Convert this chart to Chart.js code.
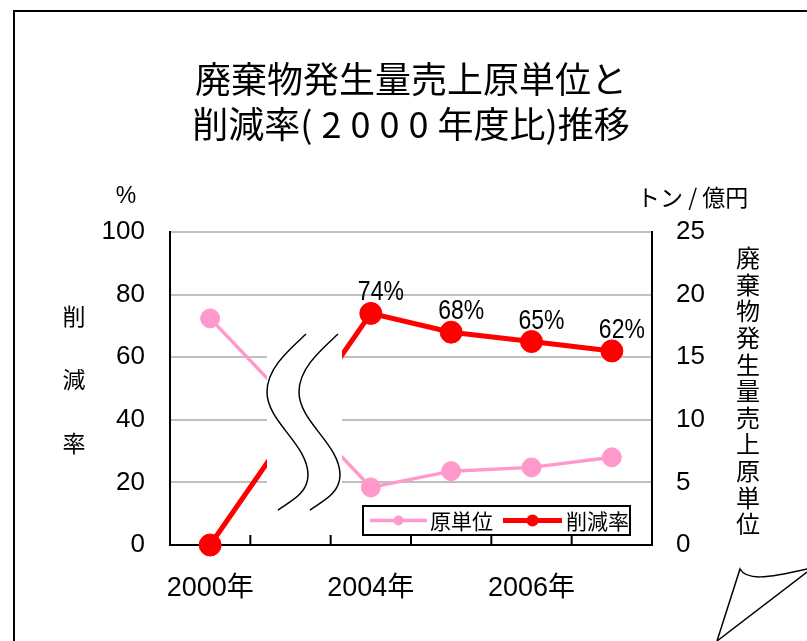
<!DOCTYPE html>
<html lang="ja">
<head>
<meta charset="utf-8">
<title>廃棄物発生量売上原単位と削減率推移</title>
<script src="https://cdn.jsdelivr.net/npm/chart.js@4.4.1/dist/chart.umd.min.js"></script>
<style>
  html, body { margin: 0; padding: 0; background: #fff; }
  #wrap { width: 807px; height: 641px; }
</style>
</head>
<body>
<div id="wrap"><canvas id="chart" width="807" height="641"></canvas></div>
<script>
(function () {
  'use strict';

  // ── Data ─────────────────────────────────────────────────────────────── //
  const years         = ['2000年', '', '2004年', '2005年', '2006年', '2007年'];
  const reductionRate = [0, null, 74, 68, 65, 62];          // 削減率 (%), left axis
  const unitIntensity = [18.1, null, 4.6, 5.9, 6.2, 7.0];   // 原単位 (トン/億円), right axis
  const rateTicks     = [0, 20, 40, 60, 80, 100];
  const unitTicks     = [0, 5, 10, 15, 20, 25];

  const titleLines  = ['廃棄物発生量売上原単位と', '削減率(\u20052\u20050\u20050\u20050\u2005年度比)推移'];
  const leftTitle   = '削減率';
  const rightTitle  = '廃棄物発生量売上原単位';
  const leftUnit    = '%';
  const rightUnit   = 'トン / 億円';

  const PINK = '#ff99cc';
  const RED  = '#ff0000';
  const NUM_FONT = "'Liberation Sans', Arial, sans-serif";
  const JP_FONT  = "'Noto Sans CJK JP', 'Noto Sans', sans-serif";

  // ── Decorations: break mark, labels, legend, frame ──────────────────── //
  const decor = {
    id: 'decor',
    beforeDraw(chart) {
      const ctx = chart.ctx;
      ctx.save();
      ctx.fillStyle = '#fff';
      ctx.fillRect(0, 0, chart.width, chart.height);
      ctx.restore();
    },
    afterDatasetsDraw(chart) {
      const ctx = chart.ctx;
      const x = chart.scales.x, y = chart.scales.y;
      // axis break between 2000 and 2004
      const cx = x.getPixelForValue(1);
      const left = cx - 23.5, right = cx + 51.5;
      const top = y.getPixelForValue(67.4), bot = y.getPixelForValue(11.2);
      ctx.save();
      ctx.fillStyle = '#fff';
      ctx.fillRect(left, top, right - left, bot - top);
      ctx.strokeStyle = '#000';
      ctx.lineWidth = 1.5;
      [0, 32].forEach(function (dx) {
        const ox = left + dx, oy = top;
        ctx.beginPath();
        ctx.moveTo(ox + 39, oy);
        ctx.bezierCurveTo(ox + 22, oy + 16, ox, oy + 34, ox, oy + 58);
        ctx.bezierCurveTo(ox, oy + 88, ox + 41, oy + 110, ox + 41, oy + 141);
        ctx.bezierCurveTo(ox + 41, oy + 160, ox + 22, oy + 168, ox + 11, oy + 176);
        ctx.stroke();
      });

      // data labels on 削減率 (condensed like the original)
      const meta = chart.getDatasetMeta(1);
      ctx.fillStyle = '#000';
      ctx.font = '28px ' + NUM_FONT;
      ctx.textAlign = 'center';
      ctx.textBaseline = 'alphabetic';
      meta.data.forEach(function (pt, i) {
        const v = reductionRate[i];
        if (v === null || v === 0) return;
        ctx.save();
        ctx.translate(pt.x + 10, pt.y - 13);
        ctx.scale(0.82, 1);
        ctx.fillText(v + '%', 0, 0);
        ctx.restore();
      });
      ctx.restore();
    },
    afterDraw(chart) {
      const ctx = chart.ctx;
      const a = chart.chartArea;
      const x = chart.scales.x;
      ctx.save();

      // inside tick marks on the category axis
      const half = (x.getPixelForValue(1) - x.getPixelForValue(0)) / 2;
      ctx.strokeStyle = '#000';
      ctx.lineWidth = 2;
      for (let i = 1; i < years.length; i++) {
        const px = x.getPixelForValue(i) - half;
        ctx.beginPath();
        ctx.moveTo(px, a.bottom);
        ctx.lineTo(px, a.bottom - 10);
        ctx.stroke();
      }

      // units and vertical axis titles
      ctx.fillStyle = '#000';
      ctx.textBaseline = 'middle';
      ctx.textAlign = 'center';
      ctx.font = '23px ' + NUM_FONT;
      ctx.fillText(leftUnit, 126, 197);
      ctx.textAlign = 'left';
      ctx.font = '23px ' + JP_FONT;
      ctx.fillText(rightUnit, 637, 197);

      ctx.textAlign = 'center';
      ctx.font = '23px ' + JP_FONT;
      leftTitle.split('').forEach(function (ch, i) {
        ctx.fillText(ch, 74, 316 + i * 63.5);
      });
      ctx.font = '24px ' + JP_FONT;
      rightTitle.split('').forEach(function (ch, i) {
        ctx.fillText(ch, 748, 258 + i * 26.6);
      });

      // legend box
      const lw = 267, lh = 29;
      const lx = a.right - 22 - lw, ly = a.bottom - 10 - lh;
      ctx.fillStyle = '#fff';
      ctx.fillRect(lx, ly, lw, lh);
      ctx.strokeStyle = '#000';
      ctx.lineWidth = 2;
      ctx.strokeRect(lx, ly, lw, lh);
      const my = ly + lh / 2;
      const items = [
        { ds: chart.data.datasets[0], x0: lx + 7,   x1: lx + 64,  tx: lx + 67,  lwid: 3.5, r: 5 },
        { ds: chart.data.datasets[1], x0: lx + 140, x1: lx + 199, tx: lx + 203, lwid: 5,   r: 6 }
      ];
      items.forEach(function (it) {
        ctx.strokeStyle = it.ds.borderColor;
        ctx.lineWidth = it.lwid;
        ctx.beginPath();
        ctx.moveTo(it.x0, my);
        ctx.lineTo(it.x1, my);
        ctx.stroke();
        ctx.fillStyle = it.ds.borderColor;
        ctx.beginPath();
        ctx.arc((it.x0 + it.x1) / 2, my, it.r, 0, Math.PI * 2);
        ctx.fill();
        ctx.fillStyle = '#000';
        ctx.textAlign = 'left';
        ctx.font = '21px ' + JP_FONT;
        ctx.fillText(it.ds.label, it.tx, my + 1);
      });

      // outer frame
      ctx.strokeStyle = '#000';
      ctx.lineWidth = 2;
      ctx.beginPath();
      ctx.moveTo(14, chart.height + 2);
      ctx.lineTo(14, 11);
      ctx.lineTo(chart.width + 2, 11);
      ctx.stroke();

      // page curl, bottom right
      ctx.lineWidth = 1.5;
      ctx.beginPath();
      ctx.moveTo(717, 641);
      ctx.lineTo(740, 569);
      ctx.bezierCurveTo(746, 580, 765, 579, 807, 569);
      ctx.moveTo(807, 572);
      ctx.lineTo(717, 641);
      ctx.stroke();

      ctx.restore();
    }
  };

  // ── Chart ────────────────────────────────────────────────────────────── //
  new Chart(document.getElementById('chart').getContext('2d'), {
    type: 'line',
    data: {
      labels: years,
      datasets: [
        {
          label: '原単位',
          data: unitIntensity,
          yAxisID: 'y2',
          borderColor: PINK,
          backgroundColor: PINK,
          borderWidth: 3.5,
          pointRadius: 9.5,
          pointBorderWidth: 1,
          pointBackgroundColor: PINK,
          spanGaps: true,
          clip: false,
        },
        {
          label: '削減率',
          data: reductionRate,
          yAxisID: 'y',
          borderColor: RED,
          backgroundColor: RED,
          borderWidth: 5,
          pointRadius: 11,
          pointBorderWidth: 1,
          pointBackgroundColor: RED,
          spanGaps: true,
          clip: false,
        },
      ],
    },
    options: {
      responsive: false,
      animation: false,
      layout: { padding: 0 },
      plugins: {
        legend: { display: false },
        tooltip: { enabled: false },
        title: {
          display: true,
          fullSize: false,
          text: titleLines,
          color: '#000',
          font: { family: JP_FONT, size: 36, weight: 'normal', lineHeight: 1.25 },
          padding: { top: 57, bottom: 85 },
        },
      },
      scales: {
        x: {
          type: 'category',
          offset: true,
          grid: { display: false, drawTicks: false },
          border: { display: true, color: '#000', width: 2 },
          ticks: {
            color: '#000',
            font: { family: NUM_FONT + ", 'Noto Sans CJK JP'", size: 27 },
            padding: 27,
            autoSkip: false,
            maxRotation: 0,
            callback: function (val, i) { return i % 2 === 0 ? this.getLabelForValue(val) : ''; },
          },
          afterFit: function (s) { s.height = 96; },
        },
        y: {
          position: 'left',
          min: rateTicks[0],
          max: rateTicks[rateTicks.length - 1],
          afterBuildTicks: function (s) { s.ticks = rateTicks.map(function (v) { return { value: v }; }); },
          grid: { color: '#c0c0c0', lineWidth: 2, drawTicks: false },
          border: { display: true, color: '#000', width: 2 },
          ticks: { color: '#000', font: { family: NUM_FONT, size: 26 }, padding: 25 },
          afterFit: function (s) { s.width = 170; },
        },
        y2: {
          position: 'right',
          min: unitTicks[0],
          max: unitTicks[unitTicks.length - 1],
          afterBuildTicks: function (s) { s.ticks = unitTicks.map(function (v) { return { value: v }; }); },
          grid: { display: false, drawTicks: false },
          border: { display: true, color: '#000', width: 2 },
          ticks: { color: '#000', font: { family: NUM_FONT, size: 26 }, padding: 24 },
          afterFit: function (s) { s.width = 155; },
        },
      },
    },
    plugins: [decor],
  });
})();
</script>
</body>
</html>
